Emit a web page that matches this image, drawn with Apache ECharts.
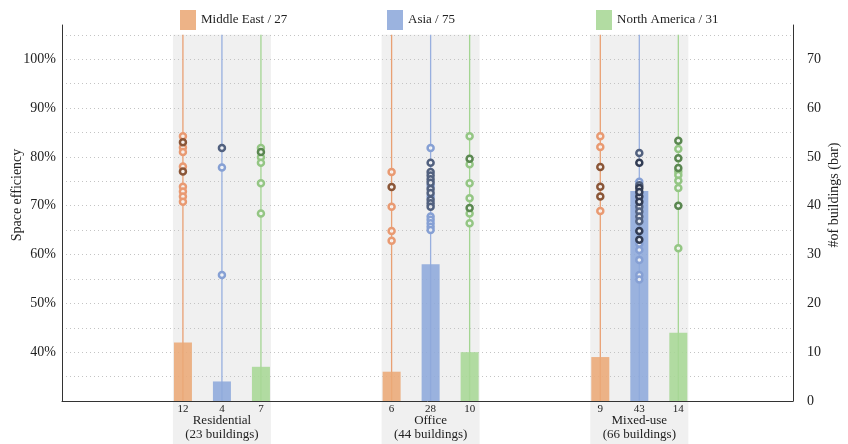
<!DOCTYPE html>
<html>
<head>
<meta charset="utf-8">
<script src="https://cdn.jsdelivr.net/npm/echarts@6/dist/echarts.min.js"></script>
<style>
  html, body { margin: 0; padding: 0; background: #ffffff; }
  #chart { width: 848px; height: 444px; }
</style>
</head>
<body>
<div id="chart"></div>
<script>
// ---- data -------------------------------------------------------------
const groups = ['Residential', 'Office', 'Mixed-use'];
const regions = ['Middle East', 'Asia', 'North America'];

// number of buildings per building type (bars, right axis)
const countsMiddleEast = [12, 6, 9];
const countsAsia = [4, 28, 43];
const countsNorthAmerica = [7, 10, 14];

// space efficiency (%) of every building (rings, left axis)
const effMiddleEastResidential = [84.2, 83.0, 83.0, 81.9, 81.0, 78.0, 77.0, 77.0, 73.9, 72.9, 71.9, 70.8];
const effAsiaResidential = [81.8, 81.8, 77.8, 55.8];
const effNorthAmericaResidential = [81.8, 81.0, 81.0, 79.9, 78.8, 74.6, 68.4];

const effMiddleEastOffice = [76.9, 73.8, 73.8, 69.8, 64.8, 62.8];
const effAsiaOffice = [81.8, 78.8, 78.8, 76.9, 76.9, 76.2, 76.2, 75.4, 75.4, 74.7, 74.7, 74.1,
  73.4, 73.4, 72.6, 72.6, 71.9, 71.2, 71.2, 70.5, 70.5, 69.8, 69.8, 67.8, 67.1, 66.4, 65.7, 65.0];
const effNorthAmericaOffice = [84.2, 79.6, 79.6, 78.5, 74.6, 71.5, 69.5, 69.5, 68.4, 66.4];

const effMiddleEastMixed = [84.2, 82.0, 77.9, 77.9, 73.9, 73.9, 71.9, 71.9, 68.9];
const effAsiaMixed = [80.8, 80.8, 78.8, 78.8, 78.8, 74.9, 74.2, 74.2, 73.6, 73.6, 73.6, 73.6,
  72.8, 72.8, 72.8, 72.8, 71.9, 71.9, 71.9, 70.8, 70.8, 70.8, 70.8, 69.8, 69.8, 68.8, 68.8,
  67.8, 67.8, 66.8, 66.8, 64.8, 64.8, 64.8, 64.8, 63.0, 63.0, 63.0, 62.2, 60.9, 58.9, 55.8, 54.9];
const effNorthAmericaMixed = [83.3, 83.3, 81.6, 79.7, 79.7, 77.7, 77.7, 77.0, 76.3, 75.1, 73.6, 70.0, 70.0, 61.3];

// ---- layout & style ---------------------------------------------------
const counts = [countsMiddleEast, countsAsia, countsNorthAmerica];
const efficiency = [
  [effMiddleEastResidential, effMiddleEastOffice, effMiddleEastMixed],
  [effAsiaResidential, effAsiaOffice, effAsiaMixed],
  [effNorthAmericaResidential, effNorthAmericaOffice, effNorthAmericaMixed]
];

const FONT = '"Liberation Serif", "DejaVu Serif", serif';
const GROUP_STEP = 5.35;      // distance between building types, in bar slots
const X_MIN = -3.1, X_MAX = 15.64;
const Y_MIN = 30, Y_MAX = 107, BAND_TOP = 105;
const BAR_WIDTH = 18;

const barColors = ['#EAA876', '#8DA8DB', '#A7D795'];
const lineColors = ['#E9A073', '#98AFDF', '#A3D592'];
const ringTones = [
  ['#E99A72', '#8A5638', '#5C3C2A'],
  ['#86A0D4', '#52617F', '#323C54'],
  ['#94C684', '#5A8750', '#3B5535']
];

const posOf = (g, r) => g * GROUP_STEP + r;

const sum = a => a.reduce((s, v) => s + v, 0);
const regionNames = regions.map((r, i) => r + ' / ' + sum(counts[i]));
const groupTotals = groups.map((g, gi) => counts.reduce((s, c) => s + c[gi], 0));

// Rings: buildings with identical efficiency share one ring, darker when shared.
function ringData(r) {
  const out = [];
  groups.forEach((g, gi) => {
    const tally = new Map();
    efficiency[r][gi].forEach(v => tally.set(v, (tally.get(v) || 0) + 1));
    // lighter rings first so darker ones sit on top
    [...tally.entries()].sort((a, b) => a[1] - b[1]).forEach(([v, n]) => {
      const tone = ringTones[r][Math.min(n, 3) - 1];
      out.push({ value: [posOf(gi, r), v], itemStyle: { borderColor: tone } });
    });
  });
  return out;
}

const chart = echarts.init(document.getElementById('chart'), null, { renderer: 'canvas' });

const series = [];

// grey bands behind each building type, reaching down under the labels
series.push({
  type: 'custom',
  name: 'bands',
  silent: true,
  z: -1,
  xAxisIndex: 0,
  yAxisIndex: 0,
  data: groups.map((g, gi) => [gi, Y_MIN]),
  renderItem(params, api) {
    const gi = api.value(0);
    const x0 = api.coord([posOf(gi, 0), BAND_TOP])[0] - BAR_WIDTH / 2 - 1;
    const x1 = api.coord([posOf(gi, 2), BAND_TOP])[0] + BAR_WIDTH / 2 + 1;
    const top = api.coord([posOf(gi, 0), BAND_TOP])[1];
    return {
      type: 'rect',
      shape: { x: x0, y: top, width: x1 - x0, height: api.getHeight() - top },
      style: { fill: '#F0F0F0' }
    };
  }
});

// thin vertical guide per region
series.push({
  type: 'custom',
  name: 'guides',
  silent: true,
  z: 1,
  xAxisIndex: 0,
  yAxisIndex: 0,
  data: groups.flatMap((g, gi) => regions.map((r, ri) => [posOf(gi, ri), ri])),
  renderItem(params, api) {
    const x = api.value(0);
    const ri = api.value(1);
    const p0 = api.coord([x, BAND_TOP]);
    const p1 = api.coord([x, Y_MIN]);
    return {
      type: 'line',
      shape: { x1: p0[0], y1: p0[1], x2: p1[0], y2: p1[1] },
      style: { stroke: lineColors[ri], lineWidth: 1.3 }
    };
  }
});

// bars: number of buildings
regions.forEach((r, ri) => {
  series.push({
    type: 'bar',
    name: regionNames[ri],
    xAxisIndex: 0,
    yAxisIndex: 1,
    barWidth: BAR_WIDTH,
    barGap: '-100%',
    z: 2,
    itemStyle: { color: barColors[ri], opacity: 0.88 },
    data: groups.map((g, gi) => [posOf(gi, ri), counts[ri][gi]])
  });
});

// rings: space efficiency of individual buildings
regions.forEach((r, ri) => {
  series.push({
    type: 'scatter',
    name: regionNames[ri],
    xAxisIndex: 0,
    yAxisIndex: 0,
    z: 3,
    symbol: 'circle',
    symbolSize: 6,
    itemStyle: { color: 'rgba(248,248,248,0.85)', borderWidth: 2.5, opacity: 1 },
    data: ringData(ri)
  });
});

// category labels under the axis: counts, type name and building total
series.push({
  type: 'custom',
  name: 'labels',
  silent: true,
  z: 4,
  xAxisIndex: 0,
  yAxisIndex: 0,
  data: groups.map((g, gi) => [gi, Y_MIN]),
  renderItem(params, api) {
    const gi = api.value(0);
    const base = api.coord([posOf(gi, 1), Y_MIN]);
    const children = regions.map((r, ri) => ({
      type: 'text',
      x: api.coord([posOf(gi, ri), Y_MIN])[0],
      y: base[1] + 8,
      style: { text: String(counts[ri][gi]), font: '11px ' + FONT, fill: '#222', align: 'center', verticalAlign: 'middle' }
    }));
    children.push({
      type: 'text', x: base[0], y: base[1] + 20,
      style: { text: groups[gi], font: '13px ' + FONT, fill: '#222', align: 'center', verticalAlign: 'middle' }
    });
    children.push({
      type: 'text', x: base[0], y: base[1] + 34,
      style: { text: '(' + groupTotals[gi] + ' buildings)', font: '13px ' + FONT, fill: '#222', align: 'center', verticalAlign: 'middle' }
    });
    return { type: 'group', children };
  }
});

const legendLeft = [175, 382, 591];

chart.setOption({
  animation: false,
  backgroundColor: '#ffffff',
  textStyle: { fontFamily: FONT },
  grid: { left: 62, right: 55, top: 25, bottom: 43, containLabel: false, outerBoundsMode: 'none' },
  legend: regionNames.map((name, i) => ({
    data: [name],
    left: legendLeft[i],
    top: 5,
    icon: 'rect',
    itemWidth: 16,
    itemHeight: 20,
    itemGap: 5,
    selectedMode: false,
    textStyle: { fontFamily: FONT, fontSize: 13, color: '#222' }
  })),
  xAxis: {
    type: 'value',
    min: X_MIN,
    max: X_MAX,
    axisLine: { show: true, onZero: false, lineStyle: { color: '#333', width: 1 } },
    axisTick: { show: false },
    axisLabel: { show: false },
    splitLine: { show: false }
  },
  yAxis: [
    {
      type: 'value',
      position: 'left',
      min: Y_MIN,
      max: Y_MAX,
      interval: 5,
      name: 'Space efficiency',
      nameLocation: 'middle',
      nameRotate: 90,
      nameGap: 38,
      nameMoveOverlap: false,
      nameTextStyle: { fontFamily: FONT, fontSize: 14, color: '#222', padding: [0, 0, 0, 36] },
      axisLine: { show: true, onZero: false, lineStyle: { color: '#333', width: 1 } },
      axisTick: { show: false },
      axisLabel: {
        margin: 6,
        fontFamily: FONT,
        fontSize: 14,
        color: '#222',
        padding: [0, 0, 6, 0],
        formatter: v => (v % 10 === 0 && v >= 40 && v <= 100) ? v + '%' : ''
      },
      splitLine: {
        show: true,
        showMinLine: false,
        showMaxLine: false,
        lineStyle: { color: '#C4C4C4', type: [1, 3], width: 1 }
      }
    },
    {
      type: 'value',
      position: 'right',
      min: 0,
      max: Y_MAX - Y_MIN,
      interval: 5,
      name: '#of buildings (bar)',
      nameLocation: 'middle',
      nameRotate: 90,
      nameGap: 34,
      nameMoveOverlap: false,
      nameTextStyle: { fontFamily: FONT, fontSize: 14, color: '#222', padding: [0, 0, 0, 36] },
      axisLine: { show: true, onZero: false, lineStyle: { color: '#333', width: 1 } },
      axisTick: { show: false },
      axisLabel: {
        margin: 14,
        fontFamily: FONT,
        fontSize: 14,
        color: '#222',
        padding: [0, 0, 6, 0],
        formatter: v => (v % 10 === 0 && v <= 70) ? String(v) : ''
      },
      splitLine: { show: false }
    }
  ],
  series
});
</script>
</body>
</html>
